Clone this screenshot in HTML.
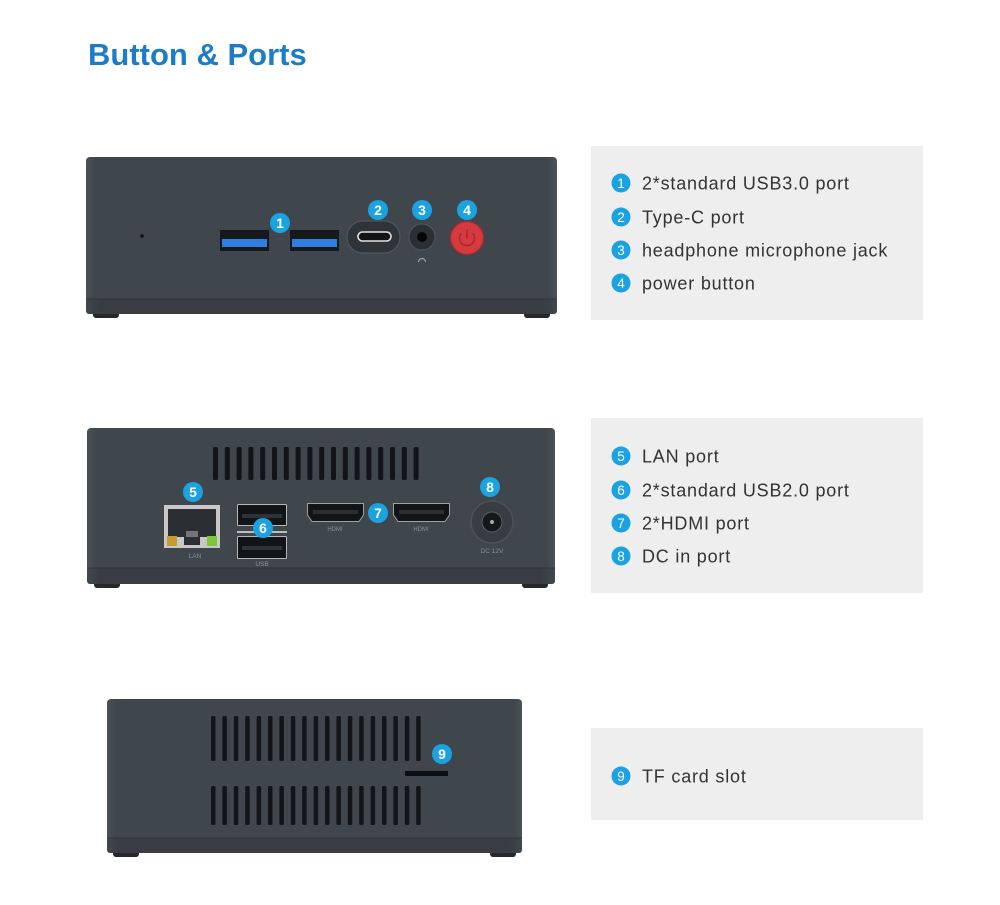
<!DOCTYPE html>
<html><head><meta charset="utf-8"><style>
html,body{margin:0;padding:0;background:#fff;}
svg{display:block;}
text{font-family:"Liberation Sans",Arial,sans-serif;}
</style></head><body>
<svg width="1000" height="905" viewBox="0 0 1000 905" xmlns="http://www.w3.org/2000/svg">
<defs>
<linearGradient id="bodyg" x1="0" x2="1" y1="0" y2="0">
<stop offset="0" stop-color="#4a5157"/><stop offset="0.02" stop-color="#3f464c"/><stop offset="0.98" stop-color="#3f464c"/><stop offset="1" stop-color="#4a5157"/>
</linearGradient>
<linearGradient id="bandg" x1="0" x2="1" y1="0" y2="0">
<stop offset="0" stop-color="#40474d"/><stop offset="0.03" stop-color="#373d42"/><stop offset="0.97" stop-color="#373d42"/><stop offset="1" stop-color="#40474d"/>
</linearGradient>
</defs>
<rect width="1000" height="905" fill="#fff"/>
<text x="88" y="65" font-size="31" font-weight="bold" fill="#1c7cc6">Button &amp; Ports</text>

<!-- Device 1 -->
<rect x="93" y="310" width="26" height="8" rx="3" fill="#25292c"/>
<rect x="524" y="310" width="26" height="8" rx="3" fill="#25292c"/>
<rect x="86" y="157" width="471" height="157" rx="4" fill="url(#bodyg)"/>
<rect x="86" y="299" width="471" height="15" rx="3" fill="url(#bandg)"/>
<line x1="86" y1="299" x2="557" y2="299" stroke="#2f3438" stroke-width="1"/>
<circle cx="142" cy="236" r="1.8" fill="#111"/>
<!-- USB3 -->
<rect x="220" y="230" width="49" height="21" fill="#15191c"/>
<rect x="222" y="239" width="45" height="8" fill="#2f7fe0"/>
<rect x="290" y="230" width="49" height="21" fill="#15191c"/>
<rect x="292" y="239" width="45" height="8" fill="#2f7fe0"/>
<!-- Type C -->
<rect x="347" y="221" width="53" height="32" rx="16" fill="#2f3439" stroke="#555c61" stroke-width="1"/>
<rect x="358" y="232" width="33" height="9" rx="4.5" fill="#121416" stroke="#e2e2e2" stroke-width="1.6"/>
<!-- audio -->
<circle cx="422" cy="237" r="13" fill="#2a2f33" stroke="#50575c" stroke-width="1"/>
<circle cx="422" cy="237" r="5" fill="#050505"/>
<path d="M418.5 262 a3.5 3.5 0 0 1 7 0" fill="none" stroke="#9aa0a5" stroke-width="1.2"/>
<!-- power -->
<circle cx="467" cy="238" r="16.5" fill="#d6393f" stroke="#a52a30" stroke-width="1.2"/>
<path d="M461.5 233 a7.5 7.5 0 1 0 11 0" fill="none" stroke="#a92a30" stroke-width="1.6"/>
<line x1="467" y1="229" x2="467" y2="238" stroke="#a92a30" stroke-width="1.6"/>
<!-- badges 1-4 -->
<g font-size="14" font-weight="bold" fill="#fff" text-anchor="middle">
<circle cx="280" cy="223" r="10" fill="#1ba2e0"/><text x="280" y="228">1</text>
<circle cx="378" cy="210" r="10" fill="#1ba2e0"/><text x="378" y="215">2</text>
<circle cx="422" cy="210" r="10" fill="#1ba2e0"/><text x="422" y="215">3</text>
<circle cx="467" cy="210" r="10" fill="#1ba2e0"/><text x="467" y="215">4</text>
</g>

<!-- Device 2 -->
<rect x="94" y="580" width="26" height="8" rx="3" fill="#25292c"/>
<rect x="522" y="580" width="26" height="8" rx="3" fill="#25292c"/>
<rect x="87" y="428" width="468" height="156" rx="4" fill="url(#bodyg)"/>
<rect x="87" y="568" width="468" height="16" rx="3" fill="url(#bandg)"/>
<line x1="87" y1="568" x2="555" y2="568" stroke="#2f3438" stroke-width="1"/>
<g fill="#121518">
<rect x="213" y="447" width="5" height="33" rx="1.5"/>
<rect x="224.8" y="447" width="5" height="33" rx="1.5"/>
<rect x="236.6" y="447" width="5" height="33" rx="1.5"/>
<rect x="248.4" y="447" width="5" height="33" rx="1.5"/>
<rect x="260.2" y="447" width="5" height="33" rx="1.5"/>
<rect x="272" y="447" width="5" height="33" rx="1.5"/>
<rect x="283.8" y="447" width="5" height="33" rx="1.5"/>
<rect x="295.6" y="447" width="5" height="33" rx="1.5"/>
<rect x="307.4" y="447" width="5" height="33" rx="1.5"/>
<rect x="319.2" y="447" width="5" height="33" rx="1.5"/>
<rect x="331" y="447" width="5" height="33" rx="1.5"/>
<rect x="342.8" y="447" width="5" height="33" rx="1.5"/>
<rect x="354.6" y="447" width="5" height="33" rx="1.5"/>
<rect x="366.4" y="447" width="5" height="33" rx="1.5"/>
<rect x="378.2" y="447" width="5" height="33" rx="1.5"/>
<rect x="390" y="447" width="5" height="33" rx="1.5"/>
<rect x="401.8" y="447" width="5" height="33" rx="1.5"/>
<rect x="413.6" y="447" width="5" height="33" rx="1.5"/>
</g>
<!-- LAN -->
<rect x="164" y="505" width="56" height="43" fill="#c8c8c8"/>
<rect x="168" y="509" width="48" height="28" fill="#2b2f33"/>
<rect x="184" y="537" width="16" height="8" fill="#2b2f33"/>
<rect x="186" y="531" width="12" height="6" fill="#777"/>
<rect x="167" y="536" width="10" height="10" fill="#c59a32"/>
<rect x="207" y="536" width="10" height="10" fill="#7cc63a"/>
<text x="195" y="558" font-size="6.5" fill="#8a9196" text-anchor="middle">LAN</text>
<!-- USB2 -->
<rect x="237.5" y="504.5" width="49" height="21" rx="1" fill="#121518" stroke="#b8b8b8" stroke-width="1"/>
<rect x="242" y="514" width="40" height="4" fill="#2e3337"/>
<rect x="237.5" y="536.5" width="49" height="22" rx="1" fill="#121518" stroke="#b8b8b8" stroke-width="1"/>
<rect x="242" y="546" width="40" height="4" fill="#2e3337"/>
<line x1="237" y1="532" x2="287" y2="532" stroke="#e6e6e6" stroke-width="1.5"/>
<text x="262" y="566" font-size="6.5" fill="#8a9196" text-anchor="middle">USB</text>
<!-- HDMI -->
<path d="M307.5 503.5 H363.5 V515 L359 521.5 H312 L307.5 515 Z" fill="#121518" stroke="#a0a0a0" stroke-width="1"/>
<rect x="313" y="510" width="45" height="4" fill="#2a2f33"/>
<path d="M393.5 503.5 H449.5 V515 L445 521.5 H398 L393.5 515 Z" fill="#121518" stroke="#a0a0a0" stroke-width="1"/>
<rect x="399" y="510" width="45" height="4" fill="#2a2f33"/>
<text x="335" y="531" font-size="6" fill="#8a9196" text-anchor="middle">HDMI</text>
<text x="421" y="531" font-size="6" fill="#8a9196" text-anchor="middle">HDMI</text>
<!-- DC -->
<circle cx="492" cy="522" r="21" fill="#373d42" stroke="#4c5358" stroke-width="1.5"/>
<circle cx="492" cy="522" r="10" fill="#16191b" stroke="#5a6166" stroke-width="1"/>
<circle cx="492" cy="522" r="2" fill="#aaa"/>
<text x="492" y="553" font-size="6.5" fill="#8a9196" text-anchor="middle">DC 12V</text>
<g font-size="14" font-weight="bold" fill="#fff" text-anchor="middle">
<circle cx="193" cy="492" r="10" fill="#1ba2e0"/><text x="193" y="497">5</text>
<circle cx="263" cy="528" r="10" fill="#1ba2e0"/><text x="263" y="533">6</text>
<circle cx="378" cy="513" r="10" fill="#1ba2e0"/><text x="378" y="518">7</text>
<circle cx="490" cy="487" r="10" fill="#1ba2e0"/><text x="490" y="492">8</text>
</g>

<!-- Device 3 -->
<rect x="113" y="849" width="26" height="8" rx="3" fill="#25292c"/>
<rect x="490" y="849" width="26" height="8" rx="3" fill="#25292c"/>
<rect x="107" y="699" width="415" height="154" rx="4" fill="url(#bodyg)"/>
<rect x="107" y="838" width="415" height="15" rx="3" fill="url(#bandg)"/>
<line x1="107" y1="838" x2="522" y2="838" stroke="#2f3438" stroke-width="1"/>
<g fill="#121518">
<rect x="211" y="716" width="4.5" height="45" rx="1.5"/><rect x="211" y="786" width="4.5" height="39" rx="1.5"/>
<rect x="222.4" y="716" width="4.5" height="45" rx="1.5"/><rect x="222.4" y="786" width="4.5" height="39" rx="1.5"/>
<rect x="233.8" y="716" width="4.5" height="45" rx="1.5"/><rect x="233.8" y="786" width="4.5" height="39" rx="1.5"/>
<rect x="245.2" y="716" width="4.5" height="45" rx="1.5"/><rect x="245.2" y="786" width="4.5" height="39" rx="1.5"/>
<rect x="256.6" y="716" width="4.5" height="45" rx="1.5"/><rect x="256.6" y="786" width="4.5" height="39" rx="1.5"/>
<rect x="268" y="716" width="4.5" height="45" rx="1.5"/><rect x="268" y="786" width="4.5" height="39" rx="1.5"/>
<rect x="279.4" y="716" width="4.5" height="45" rx="1.5"/><rect x="279.4" y="786" width="4.5" height="39" rx="1.5"/>
<rect x="290.8" y="716" width="4.5" height="45" rx="1.5"/><rect x="290.8" y="786" width="4.5" height="39" rx="1.5"/>
<rect x="302.2" y="716" width="4.5" height="45" rx="1.5"/><rect x="302.2" y="786" width="4.5" height="39" rx="1.5"/>
<rect x="313.6" y="716" width="4.5" height="45" rx="1.5"/><rect x="313.6" y="786" width="4.5" height="39" rx="1.5"/>
<rect x="325" y="716" width="4.5" height="45" rx="1.5"/><rect x="325" y="786" width="4.5" height="39" rx="1.5"/>
<rect x="336.4" y="716" width="4.5" height="45" rx="1.5"/><rect x="336.4" y="786" width="4.5" height="39" rx="1.5"/>
<rect x="347.8" y="716" width="4.5" height="45" rx="1.5"/><rect x="347.8" y="786" width="4.5" height="39" rx="1.5"/>
<rect x="359.2" y="716" width="4.5" height="45" rx="1.5"/><rect x="359.2" y="786" width="4.5" height="39" rx="1.5"/>
<rect x="370.6" y="716" width="4.5" height="45" rx="1.5"/><rect x="370.6" y="786" width="4.5" height="39" rx="1.5"/>
<rect x="382" y="716" width="4.5" height="45" rx="1.5"/><rect x="382" y="786" width="4.5" height="39" rx="1.5"/>
<rect x="393.4" y="716" width="4.5" height="45" rx="1.5"/><rect x="393.4" y="786" width="4.5" height="39" rx="1.5"/>
<rect x="404.8" y="716" width="4.5" height="45" rx="1.5"/><rect x="404.8" y="786" width="4.5" height="39" rx="1.5"/>
<rect x="416.2" y="716" width="4.5" height="45" rx="1.5"/><rect x="416.2" y="786" width="4.5" height="39" rx="1.5"/>
</g>
<rect x="405" y="771" width="43" height="5" fill="#0c0e10"/>
<g font-size="14" font-weight="bold" fill="#fff" text-anchor="middle">
<circle cx="442" cy="754" r="10" fill="#1ba2e0"/><text x="442" y="759">9</text>
</g>

<!-- Info boxes -->
<rect x="591" y="146" width="332" height="174" fill="#eeeeee"/>
<rect x="591" y="418" width="332" height="175" fill="#eeeeee"/>
<rect x="591" y="728" width="332" height="92" fill="#eeeeee"/>
<g font-size="13.5" fill="#fff" text-anchor="middle">
<circle cx="621" cy="183" r="9.5" fill="#1ba2e0"/><text x="621" y="188">1</text>
<circle cx="621" cy="217" r="9.5" fill="#1ba2e0"/><text x="621" y="222">2</text>
<circle cx="621" cy="250" r="9.5" fill="#1ba2e0"/><text x="621" y="255">3</text>
<circle cx="621" cy="283" r="9.5" fill="#1ba2e0"/><text x="621" y="288">4</text>
<circle cx="621" cy="456" r="9.5" fill="#1ba2e0"/><text x="621" y="461">5</text>
<circle cx="621" cy="490" r="9.5" fill="#1ba2e0"/><text x="621" y="495">6</text>
<circle cx="621" cy="523" r="9.5" fill="#1ba2e0"/><text x="621" y="528">7</text>
<circle cx="621" cy="556" r="9.5" fill="#1ba2e0"/><text x="621" y="561">8</text>
<circle cx="621" cy="776" r="9.5" fill="#1ba2e0"/><text x="621" y="781">9</text>
</g>
<g font-size="18" fill="#333" letter-spacing="0.8">
<text x="642" y="189.5">2*standard USB3.0 port</text>
<text x="642" y="223.5">Type-C port</text>
<text x="642" y="256.5">headphone microphone jack</text>
<text x="642" y="289.5">power button</text>
<text x="642" y="462.5">LAN port</text>
<text x="642" y="496.5">2*standard USB2.0 port</text>
<text x="642" y="529.5">2*HDMI port</text>
<text x="642" y="562.5">DC in port</text>
<text x="642" y="782.5">TF card slot</text>
</g>
</svg>
</body></html>
